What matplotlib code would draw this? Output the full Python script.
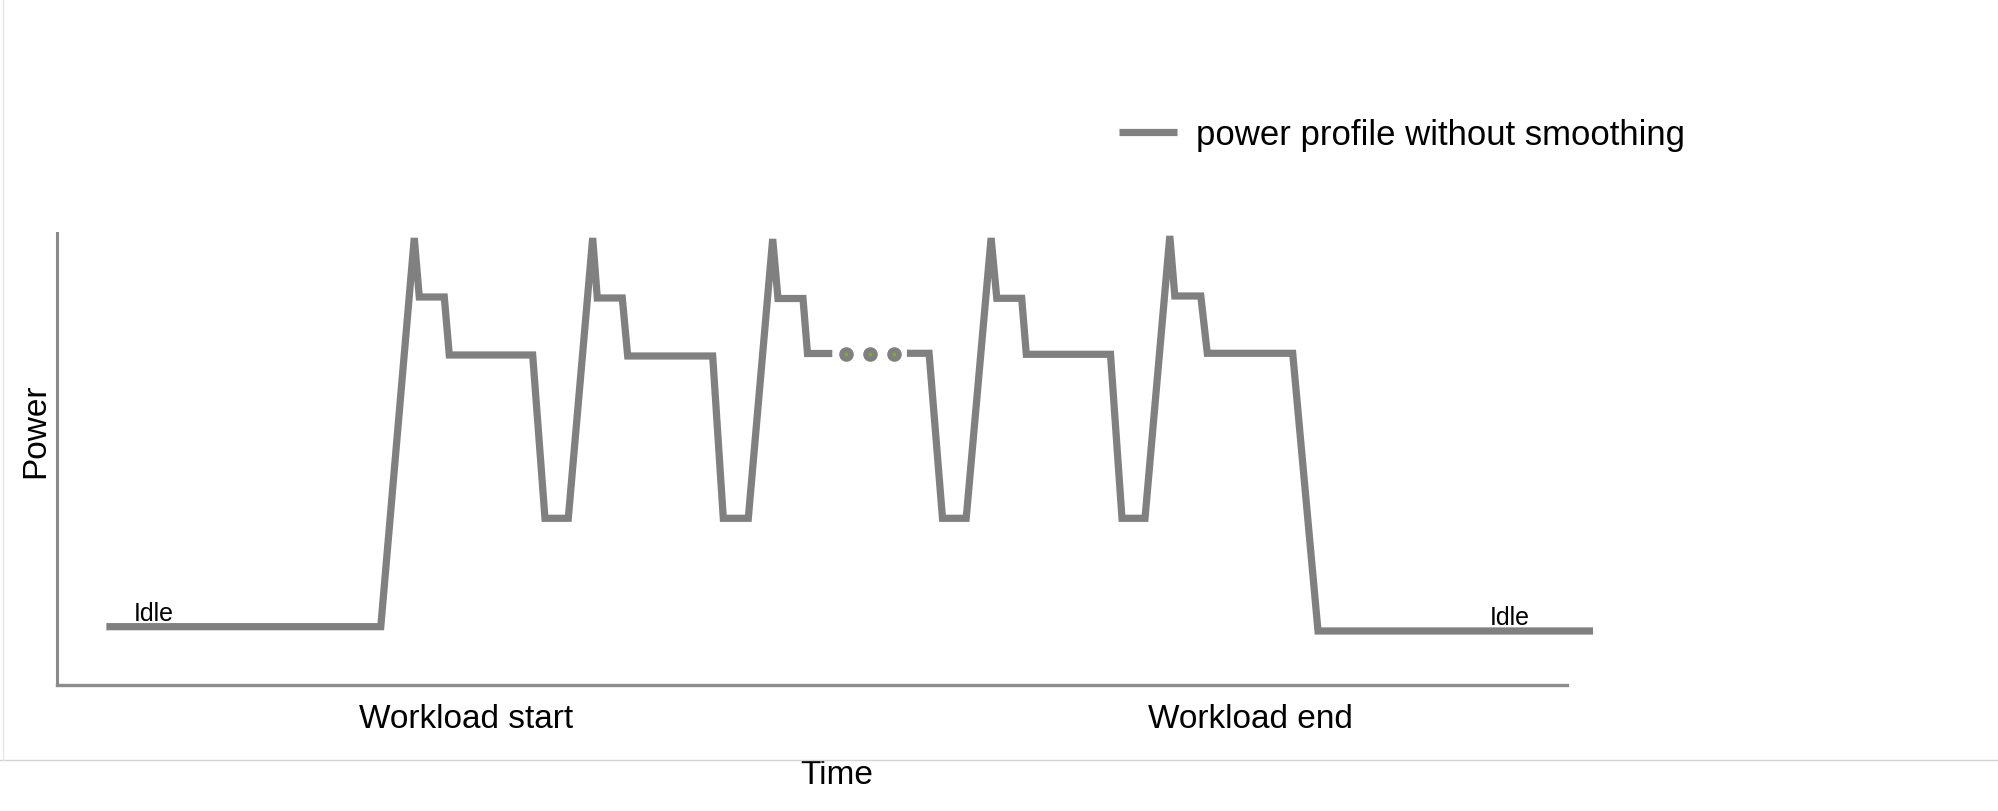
import matplotlib
matplotlib.use("Agg")
import matplotlib.pyplot as plt
from matplotlib.lines import Line2D

plt.rcParams["font.family"] = ["Liberation Sans", "DejaVu Sans"]

# power profile (arbitrary units)
# first part: idle -> three load cycles
time_a = [4.98, 32.42, 35.77, 36.27, 38.77, 39.27, 47.61, 48.84, 51.17,
          53.61, 54.07, 56.57, 57.11, 65.61, 66.67, 69.17,
          71.61, 72.14, 74.64, 75.09, 77.57]
power_a = [5.83, 5.83, 44.7, 38.8, 38.8, 33.0, 33.0, 16.67, 16.67,
           44.7, 38.7, 38.7, 32.9, 32.9, 16.67, 16.67,
           44.6, 38.65, 38.65, 33.15, 33.15]

# second part: two more cycles -> back to idle
time_b = [85.03, 87.25, 88.59, 90.96, 93.45, 94.02, 96.51, 96.97, 105.39,
          106.54, 108.84, 111.32, 111.82, 114.42, 115.07, 123.61, 126.14,
          153.64]
power_b = [33.17, 33.17, 16.67, 16.67, 44.7, 38.67, 38.67, 33.07, 33.07,
           16.67, 16.67, 44.9, 38.9, 38.9, 33.17, 33.17, 5.4,
           5.4]

# "..." between the two parts
dots_t = [78.91, 81.32, 83.73]
dots_p = [33.1, 33.1, 33.1]

tick_pos = [40.94, 119.4]
tick_labels = ["Workload start", "Workload end"]

line_color = "#808080"

fig = plt.figure(figsize=(19.99, 8.11), dpi=100)
ax = fig.add_axes([0.0283, 0.1554, 0.7556, 0.5573])

ax.plot(time_a, power_a, color=line_color, lw=5.2,
        solid_capstyle="butt", solid_joinstyle="miter",
        label="power profile without smoothing", clip_on=False)
ax.plot(time_b, power_b, color=line_color, lw=5.2,
        solid_capstyle="butt", solid_joinstyle="miter", clip_on=False)

ax.plot(dots_t, dots_p, "o", ms=10.5, color=line_color, mew=0)
ax.plot(dots_t, dots_p, "o", ms=2.5, color="#76b900", mew=0)

ax.text(7.74, 6.4, "Idle", fontsize=18, va="baseline", ha="left")
ax.text(143.34, 6.0, "Idle", fontsize=18, va="baseline", ha="left")

ax.set_xlim(0, 151.04)
ax.set_ylim(0, 45.2)

ax.set_xticks(tick_pos)
ax.set_xticklabels(tick_labels, fontsize=24)
ax.tick_params(axis="x", length=0, pad=13.5)
ax.set_yticks([])

ax.set_xlabel("Time", fontsize=24)
ax.xaxis.set_label_coords(0.5164, -0.166)
ax.set_ylabel("Power", fontsize=24)
ax.yaxis.set_label_coords(-0.0037, 0.5624)

for side in ["top", "right"]:
    ax.spines[side].set_visible(False)
ax.spines["left"].set_color("#8a8a8a")
ax.spines["left"].set_linewidth(2.2)
ax.spines["bottom"].set_color("#8c8c8c")
ax.spines["bottom"].set_linewidth(2.4)

ax.legend(loc="center left", bbox_to_anchor=(0.5598, 0.8335),
          bbox_transform=fig.transFigure, frameon=False, fontsize=25,
          handlelength=1.66, handletextpad=0.55, borderpad=0,
          borderaxespad=0)

# light frame lines of the original picture
fig.add_artist(Line2D([0, 1], [0.0629, 0.0629], transform=fig.transFigure,
                      color="#d4d4d4", lw=1.0))
fig.add_artist(Line2D([0.0015, 0.0015], [0.0629, 1], transform=fig.transFigure,
                      color="#e6e6e6", lw=1.0))

fig.savefig("out.png", dpi=100)
